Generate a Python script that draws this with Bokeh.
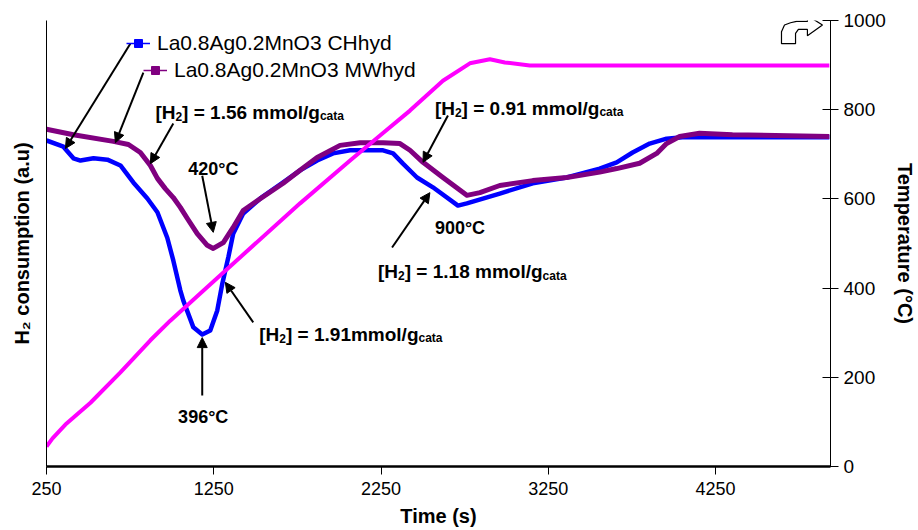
from bokeh.plotting import figure
from bokeh.models import (Range1d, LinearAxis, FixedTicker, Arrow, NormalHead, Legend,
                          LegendItem, ColumnDataSource, PolyAnnotation)
from bokeh.core.properties import value
from bokeh.embed import file_html
from bokeh.resources import INLINE

NAN = float("nan")

# ---------------- data ----------------
series_names = ["La0.8Ag0.2MnO3 CHhyd", "La0.8Ag0.2MnO3 MWhyd"]

time_ch = [250, 351, 411, 453, 531, 614, 692, 769, 853, 913, 972, 1008, 1050, 1068, 1128, 1181,
           1229, 1271, 1301, 1337, 1366, 1426, 1528, 1665, 1766, 1868, 1963, 2065, 2262, 2322,
           2381, 2465, 2560, 2710, 2763, 2960, 3157, 3360, 3557, 3659, 3754, 3856, 3957, 4053, 4930]
h2_ch = [731, 717, 691, 686, 691, 688, 675, 637, 601, 570, 513, 462, 395, 372, 312, 296,
         305, 350, 410, 469, 522, 567, 601, 637, 664, 686, 702, 709, 709, 702,
         679, 648, 626, 585, 590, 612, 635, 648, 668, 682, 704, 724, 735, 738, 738]

time_mw = [250, 411, 650, 740, 811, 871, 913, 960, 1008, 1050, 1092, 1151, 1211, 1247, 1307,
           1366, 1426, 1510, 1665, 1766, 1868, 2005, 2125, 2262, 2363, 2423, 2501, 2620, 2763,
           2841, 2960, 3157, 3360, 3557, 3659, 3796, 3898, 3957, 4035, 4154, 4351, 4930]
h2_mw = [756, 744, 729, 722, 704, 675, 646, 623, 603, 581, 556, 522, 496, 489, 502,
         536, 574, 596, 635, 664, 693, 720, 726, 726, 724, 709, 682, 648, 608,
         614, 630, 641, 648, 660, 668, 680, 702, 724, 740, 747, 744, 740]

time_temp = [250, 286, 363, 513, 692, 871, 990, 1169, 1319, 1766, 2065, 2244, 2423, 2620,
             2781, 2901, 2990, 3139, 4930]
temperature = [45, 63, 94, 143, 211, 283, 327, 388, 439, 590, 686, 742, 798, 865,
               904, 913, 906, 899, 899]

x_ticks = [250, 1250, 2250, 3250, 4250]
temp_ticks = [0, 200, 400, 600, 800, 1000]

# H2 consumption annotations
ann_h2_values = ["1.56 mmol", "0.91 mmol", "1.18 mmol", "1.91mmol"]
ann_h2_time = [901, 2572, 2232, 1522]
ann_h2_level = [794, 803, 437, 296]

# peak temperature annotations
peak_labels = ["420°C", "900°C", "396°C"]
peak_time = [1247, 2722, 1187]
peak_level = [668, 534, 112]

# arrows (start -> tip)
arrow_t0 = [751, 829, 1008, 1181, 2650, 2316, 1486, 1181]
arrow_v0 = [948, 883, 769, 652, 787, 491, 323, 159]
arrow_t1 = [363, 662, 871, 1247, 2501, 2542, 1319, 1181]
arrow_v1 = [713, 726, 679, 525, 682, 614, 413, 289]

# ---------------- figure ----------------
FONT = "Liberation Sans"
BLUE, PURPLE, MAGENTA = "#0000FF", "#800080", "#FF00FF"

p = figure(width=918, height=530, x_range=Range1d(250, 4937), y_range=Range1d(0, 1000),
           output_backend="svg", toolbar_location=None,
           min_border_left=46, min_border_right=87, min_border_top=20, min_border_bottom=64,
           x_axis_label="Time (s)", y_axis_label="H\u2082 consumption (a.u)")
p.extra_y_ranges = {"temp": Range1d(0, 1000)}
p.xgrid.visible = False
p.ygrid.visible = False
p.outline_line_color = None
p.background_fill_color = "white"

# bottom axis
xa = p.xaxis[0]
xa.ticker = FixedTicker(ticks=x_ticks)
xa.axis_line_width = 2.5
xa.axis_line_color = "black"
xa.major_tick_out = 8
xa.major_tick_in = 0
xa.minor_tick_out = 0
xa.minor_tick_in = 0
xa.major_tick_line_color = "black"
xa.major_label_standoff = 7
xa.major_label_text_font = FONT
xa.major_label_text_font_size = "18px"
xa.major_label_text_color = "black"
xa.axis_label_text_font = FONT
xa.axis_label_text_font_style = "bold"
xa.axis_label_text_font_size = "20px"
xa.axis_label_text_color = "black"
xa.axis_label_standoff = 7

# left axis (no ticks)
ya = p.yaxis[0]
ya.ticker = FixedTicker(ticks=[])
ya.major_tick_out = 0
ya.major_tick_in = 0
ya.minor_tick_out = 0
ya.minor_tick_in = 0
ya.axis_line_color = "black"
ya.axis_label_text_font = FONT
ya.axis_label_text_font_style = "bold"
ya.axis_label_text_font_size = "20px"
ya.axis_label_text_color = "black"
ya.axis_label_standoff = 14

# right axis (temperature)
ra = LinearAxis(y_range_name="temp", ticker=FixedTicker(ticks=temp_ticks),
                axis_label="Temperature (°C)")
ra.major_tick_out = 8
ra.major_tick_in = 8
ra.minor_tick_out = 0
ra.minor_tick_in = 0
ra.axis_line_color = "black"
ra.major_tick_line_color = "black"
ra.major_label_standoff = 5
ra.major_label_text_font = FONT
ra.major_label_text_font_size = "19px"
ra.major_label_text_color = "black"
ra.axis_label_text_font = FONT
ra.axis_label_text_font_style = "bold"
ra.axis_label_text_font_size = "20px"
ra.axis_label_text_color = "black"
ra.axis_label_standoff = 5
p.add_layout(ra, "right")

# ---------------- series ----------------
p.line(time_ch, h2_ch, line_color=BLUE, line_width=4.5, line_join="round")
p.line(time_mw, h2_mw, line_color=PURPLE, line_width=5, line_join="round")
p.line(time_temp, temperature, line_color=MAGENTA, line_width=4, line_join="round",
       y_range_name="temp")

# ---------------- legends (staggered) ----------------
leg_ch_line = p.line([NAN], [NAN], line_color=BLUE, line_width=1.5)
leg_ch_mark = p.scatter([NAN], [NAN], marker="square", size=4, fill_color=BLUE, line_color=BLUE)
leg_mw_line = p.line([NAN], [NAN], line_color=PURPLE, line_width=1.5)
leg_mw_mark = p.scatter([NAN], [NAN], marker="square", size=4, fill_color=PURPLE,
                        line_color=PURPLE)


def make_legend(label, renderers, loc):
    lg = Legend(items=[LegendItem(label=label, renderers=renderers, index=0)], location=loc)
    lg.border_line_alpha = 0
    lg.background_fill_alpha = 0
    lg.padding = 0
    lg.margin = 0
    lg.spacing = 0
    lg.glyph_width = 24
    lg.glyph_height = 20
    lg.label_height = 20
    lg.label_standoff = 7
    lg.label_text_font = FONT
    lg.label_text_font_size = "21px"
    lg.label_text_color = "black"
    return lg


p.add_layout(make_legend(series_names[0], [leg_ch_line, leg_ch_mark], (80, 411)))
p.add_layout(make_legend(series_names[1], [leg_mw_line, leg_mw_mark], (97, 384)))

# ---------------- arrows ----------------
arrow_src = ColumnDataSource(dict(x0=arrow_t0, y0=arrow_v0, x1=arrow_t1, y1=arrow_v1))
p.add_layout(Arrow(source=arrow_src, x_start="x0", y_start="y0", x_end="x1", y_end="y1",
                   line_color="black", line_width=2,
                   end=NormalHead(size=10, fill_color="black", line_color="black", line_width=1)))

# ---------------- text annotations ----------------
BOLD_W = {'[': 333, 'H': 722, ']': 333, ' ': 278, '=': 584, '.': 278, 'm': 889, 'o': 611,
          'l': 278, '/': 278, 'g': 611, 'c': 556, 'a': 556, 't': 333}
for d in "0123456789":
    BOLD_W[d] = 556


def tw(s, size):
    return sum(BOLD_W.get(c, 556) for c in s) * size / 1000.0


MAIN, SUB = 19, 12
tx, ty, tt, tdx, tdy, tfs = [], [], [], [], [], []
for val, t, v in zip(ann_h2_values, ann_h2_time, ann_h2_level):
    pieces = [("[H", MAIN, 0), ("2", SUB, 4), ("] = " + val + "/g", MAIN, 0), ("cata", SUB, 4)]
    off = 0.0
    for s, size, dy in pieces:
        tx.append(t); ty.append(v); tt.append(s)
        tdx.append(off); tdy.append(dy); tfs.append(f"{size}px")
        off += tw(s, size)

ann_src = ColumnDataSource(dict(x=tx, y=ty, text=tt, dx=tdx, dy=tdy, fs=tfs))
p.text(x="x", y="y", text="text", x_offset="dx", y_offset="dy", text_font_size="fs",
       source=ann_src, text_font=value(FONT), text_font_style="bold", text_color="black",
       text_align="left", text_baseline="alphabetic")

p.text(x=peak_time, y=peak_level, text=peak_labels, text_font=value(FONT),
       text_font_style="bold", text_font_size="18px", text_color="black",
       text_align="center", text_baseline="alphabetic")

# bent arrow symbol near the temperature axis
p.add_layout(PolyAnnotation(
    xs=[4644, 4644, 4662, 4698, 4734, 4799, 4799, 4889, 4799, 4799, 4745, 4728, 4728],
    ys=[948, 975, 990, 995, 998, 998, 1011, 990, 966, 980, 980, 971, 948],
    fill_color="white", fill_alpha=1, line_color="black", line_alpha=1, line_width=1.2))

open("out.html", "w").write(file_html(p, INLINE))
